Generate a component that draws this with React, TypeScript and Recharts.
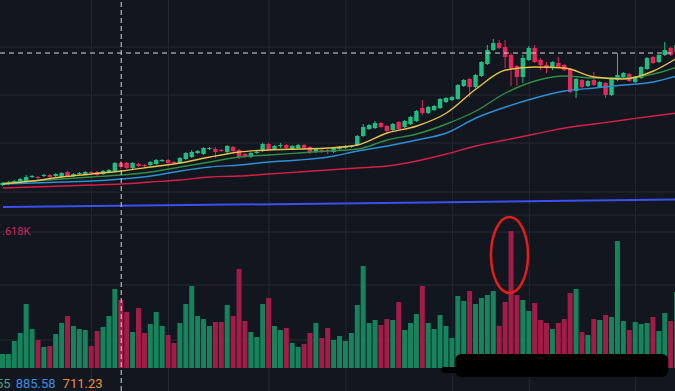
import React from 'react';
import {
  ComposedChart,
  Bar,
  Line,
  XAxis,
  YAxis,
  Cell,
  ReferenceLine,
  ReferenceArea,
  ReferenceDot,
} from 'recharts';

// ---- candle data (price units) ----
const opens = [
  215, 216, 217, 218, 218, 223, 223, 224, 225, 224,
  223, 228, 224, 226, 226, 228, 228, 226, 228, 229,
  237, 237, 232, 236, 235, 235, 236, 239, 240, 238,
  237, 241, 243, 247, 246, 251, 251, 250, 248, 253,
  250, 246, 243, 247, 249, 256, 251, 254, 255, 251,
  252, 255, 253, 248, 250, 250, 248, 251, 252, 253,
  255, 264, 271, 272, 277, 274, 270, 278, 273, 276,
  279, 292, 287, 290, 292, 298, 300, 301, 314, 321,
  313, 324, 336, 350, 357, 353, 345, 334, 323, 340,
  352, 340, 335, 332, 337, 335, 331, 309, 320, 314,
  320, 313, 317, 305, 320, 323, 326, 318, 322, 331,
  343, 338, 345, 352, 348,
];
const closes = [
  217, 218, 219, 221, 223, 224, 222, 225, 223, 226,
  227, 224, 226, 227, 228, 227, 225, 229, 230, 237,
  233, 232, 237, 234, 234, 238, 240, 240, 237, 237,
  242, 247, 248, 249, 252, 252, 248, 249, 254, 249,
  243, 243, 247, 248, 256, 250, 254, 255, 252, 254,
  255, 252, 248, 251, 248, 249, 252, 253, 254, 254,
  264, 273, 275, 277, 273, 269, 276, 271, 279, 283,
  289, 287, 293, 294, 301, 302, 303, 315, 320, 313,
  325, 338, 350, 357, 352, 343, 332, 323, 342, 352,
  338, 335, 333, 338, 333, 330, 308, 321, 313, 319,
  315, 318, 305, 322, 325, 327, 319, 323, 333, 342,
  337, 345, 350, 345, 355,
];
const highs = [
  218, 219, 220, 222, 225, 225, 224, 226, 226, 227,
  228, 229, 227, 228, 229, 229, 229, 230, 231, 238,
  239, 238, 238, 237, 236, 239, 241, 241, 241, 239,
  243, 248, 250, 250, 253, 253, 253, 251, 255, 254,
  251, 247, 248, 249, 257, 257, 255, 257, 256, 255,
  256, 256, 254, 252, 251, 251, 253, 254, 255, 255,
  265, 276, 276, 279, 278, 275, 277, 279, 280, 284,
  290, 300, 294, 295, 302, 303, 304, 316, 321, 322,
  326, 339, 355, 361, 360, 360, 347, 335, 345, 354,
  355, 342, 338, 339, 343, 336, 332, 322, 321, 320,
  328, 319, 318, 323, 347, 328, 327, 324, 334, 343,
  344, 346, 358, 353, 356,
];
const lows = [
  214, 215, 216, 217, 217, 222, 221, 223, 222, 223,
  222, 223, 223, 225, 225, 226, 224, 225, 227, 228,
  231, 231, 231, 233, 233, 234, 235, 238, 236, 236,
  236, 240, 242, 246, 245, 250, 242, 248, 247, 248,
  241, 242, 242, 246, 248, 249, 250, 252, 251, 250,
  251, 251, 246, 247, 247, 246, 247, 250, 251, 252,
  254, 263, 270, 271, 272, 268, 269, 270, 272, 275,
  278, 285, 286, 289, 291, 297, 299, 300, 313, 303,
  312, 323, 335, 349, 351, 332, 314, 314, 317, 339,
  337, 330, 327, 330, 332, 329, 307, 302, 312, 313,
  314, 312, 302, 304, 319, 322, 318, 317, 321, 330,
  336, 337, 344, 344, 347,
];
const volumes = [
  14, 14, 27, 35, 64, 39, 28, 21, 22, 34,
  45, 52, 42, 39, 38, 22, 37, 41, 52, 79,
  68, 56, 36, 60, 35, 44, 56, 42, 33, 25,
  45, 64, 82, 52, 49, 42, 46, 46, 63, 52,
  99, 47, 36, 31, 64, 70, 42, 38, 40, 25,
  21, 24, 35, 45, 30, 40, 28, 32, 27, 35,
  63, 102, 45, 48, 43, 49, 48, 66, 38, 45,
  54, 82, 45, 39, 53, 42, 30, 72, 67, 77,
  64, 70, 73, 77, 42, 66, 137, 73, 68, 57,
  65, 48, 45, 39, 45, 49, 75, 79, 36, 33,
  49, 48, 53, 51, 127, 47, 38, 46, 44, 45,
  51, 37, 55, 47, 76,
];

// ---- moving averages, read at every 5th candle ----
const maIndex = [0, 5, 10, 15, 20, 25, 30, 35, 40, 45, 50, 55, 60, 65, 70, 75, 80, 85, 90, 95, 100, 105, 110, 114];
const maYellow = [216, 219, 223, 226, 229, 233, 237, 243, 248, 250, 251, 252, 255, 267, 274, 287, 311, 330, 333, 332, 323, 321, 329, 342];
const maGreen = [217, 219, 221, 223, 225, 228, 233, 238, 243, 245, 247, 249, 251, 260, 266, 276, 289, 307, 319, 324, 322, 322, 326, 333];
const maBlue = [216, 217, 218, 219, 221, 224, 229, 233, 235, 238, 240, 243, 249, 254, 260, 267, 282, 293, 302, 309, 312, 315, 318, 324];
const maRed = [212, 213, 214, 215, 216, 218, 220, 223, 224, 226, 228, 230, 232, 234, 239, 246, 254, 260, 266, 272, 276, 280, 284, 287];
const longIndex = [0, 57, 114];
const maLong = [193, 196.5, 200.5];

// grid / reference values
const priceGrid = [353, 305, 257, 208];
const paneSeparator = 185;
const volGrid = [136, 83, 28];
const timeGrid = [15, 28, 45, 58, 76, 89, 107];
const crossIndex = 20;
const crossPrice = 347;
const spikeIndex = 86;
const spikeMid = 113;

const UP = '#1fbf84';
const DOWN = '#e8265c';
const VUP = '#15845d';
const VDOWN = '#a11d48';
const BG = '#12161e';
const GRID = '#232833';

const pick = (idx: number[], vals: number[], i: number) => {
  const k = idx.indexOf(i);
  return k >= 0 ? vals[k] : null;
};

const rows = opens.map((o, i) => ({
  i,
  open: o,
  close: closes[i],
  high: highs[i],
  low: lows[i],
  vol: volumes[i],
  maY: pick(maIndex, maYellow, i),
  maG: pick(maIndex, maGreen, i),
  maB: pick(maIndex, maBlue, i),
  maR: pick(maIndex, maRed, i),
  maL: pick(longIndex, maLong, i),
}));

const Candle = (props: any) => {
  const { x, y, width, height, payload } = props;
  if (!payload) return null;
  const top = Math.min(y, y + height);
  const h = Math.abs(height);
  const { open, close, high, low } = payload;
  const range = high - low || 1;
  const k = h / range;
  const yO = top + (high - open) * k;
  const yC = top + (high - close) * k;
  const bTop = Math.min(yO, yC);
  const bH = Math.max(1, Math.abs(yO - yC));
  const cx = x + width / 2;
  const color = close >= open ? UP : DOWN;
  return (
    <g>
      <line x1={cx} x2={cx} y1={top} y2={top + h} stroke={color} strokeWidth={1} />
      <rect x={cx - 2.2} y={bTop} width={4.4} height={bH} fill={color} />
    </g>
  );
};

const Blob = (props: any) => {
  const { x, y, width, height } = props;
  const r = 6;
  return (
    <g>
      <rect x={x - 14} y={y + height - 10} width={30} height={6} rx={3} fill="#000" />
      <rect x={x} y={y} width={width} height={height} rx={r} fill="#000" />
    </g>
  );
};

const Ring = (props: any) => {
  const { cx, cy } = props;
  return <ellipse cx={cx - 2} cy={cy} rx={18.5} ry={38} fill="none" stroke="#e11d1d" strokeWidth={2.5} />;
};

const NoDot = () => <g />;

const maLine = (key: string, color: string, w: number) => (
  <Line
    key={key}
    xAxisId="p"
    yAxisId="p"
    dataKey={key}
    stroke={color}
    strokeWidth={w}
    dot={NoDot}
    activeDot={false}
    connectNulls
    type="monotone"
    legendType="none"
    isAnimationActive={false}
  />
);

export default function App() {
  return (
    <div
      style={{
        position: 'absolute',
        left: 0,
        top: 0,
        width: 675,
        height: 391,
        overflow: 'hidden',
        background: BG,
      }}
    >
      <ComposedChart width={680} height={391} data={rows} margin={{ top: 0, right: 0, bottom: 0, left: 0 }}>
        <XAxis xAxisId="p" dataKey="i" type="category" hide />
        <XAxis xAxisId="v" dataKey="i" type="category" hide />
        <YAxis yAxisId="p" type="number" domain={[9, 400]} allowDataOverflow hide />
        <YAxis yAxisId="v" type="number" domain={[-23, 368]} allowDataOverflow hide />

        {timeGrid.map((t) => (
          <ReferenceLine key={'t' + t} xAxisId="p" yAxisId="p" x={t} stroke={GRID} strokeWidth={1} zIndex={-100} />
        ))}
        {priceGrid.map((p) => (
          <ReferenceLine key={'p' + p} xAxisId="p" yAxisId="p" y={p} stroke={GRID} strokeWidth={1} zIndex={-100} />
        ))}
        <ReferenceLine xAxisId="p" yAxisId="p" y={paneSeparator} stroke={GRID} strokeWidth={1} zIndex={-100} />
        {volGrid.map((v) => (
          <ReferenceLine key={'v' + v} xAxisId="v" yAxisId="v" y={v} stroke={GRID} strokeWidth={1} zIndex={-100} />
        ))}

        <Bar xAxisId="v" yAxisId="v" dataKey="vol" barSize={5} isAnimationActive={false}>
          {rows.map((r) => (
            <Cell key={r.i} fill={r.close >= r.open ? VUP : VDOWN} />
          ))}
        </Bar>

        {maLine('maL', '#3d4ff0', 2)}
        {maLine('maR', '#d81f4a', 1.4)}
        {maLine('maB', '#2d8fd6', 1.4)}
        {maLine('maG', '#2f8f47', 1.4)}
        {maLine('maY', '#e6c34a', 1.4)}

        <Bar
          xAxisId="p"
          yAxisId="p"
          dataKey={(r: any) => [r.low, r.high]}
          barSize={5}
          shape={Candle}
          isAnimationActive={false}
        />

        <ReferenceLine xAxisId="p" yAxisId="p" x={crossIndex} stroke="#d4d7de" strokeDasharray="5 3" strokeWidth={1} zIndex={1100} />
        <ReferenceLine xAxisId="p" yAxisId="p" y={crossPrice} stroke="#d4d7de" strokeDasharray="5 4" strokeWidth={1} zIndex={1100} />

        <ReferenceArea xAxisId="v" yAxisId="v" x1={77} x2={112} y1={-9} y2={14} shape={Blob} zIndex={1500} ifOverflow="visible" />
        <ReferenceDot xAxisId="v" yAxisId="v" x={spikeIndex} y={spikeMid} r={5} shape={Ring} zIndex={1600} ifOverflow="visible" />
      </ComposedChart>

      <div
        style={{
          position: 'absolute',
          left: 2,
          top: 226,
          fontFamily: 'Roboto, sans-serif',
          fontSize: 11,
          lineHeight: '11px',
          color: '#d3245f',
          whiteSpace: 'nowrap',
        }}
      >
        .618K
      </div>
      <div
        style={{
          position: 'absolute',
          left: -4,
          top: 377,
          fontFamily: 'Roboto, sans-serif',
          fontSize: 13,
          lineHeight: '13px',
          whiteSpace: 'nowrap',
        }}
      >
        <span style={{ color: '#4f9c8c' }}>55</span>
        <span style={{ color: '#3b8ee0', marginLeft: 5 }}>885.58</span>
        <span style={{ color: '#e5903a', marginLeft: 7 }}>711.23</span>
      </div>
    </div>
  );
}
